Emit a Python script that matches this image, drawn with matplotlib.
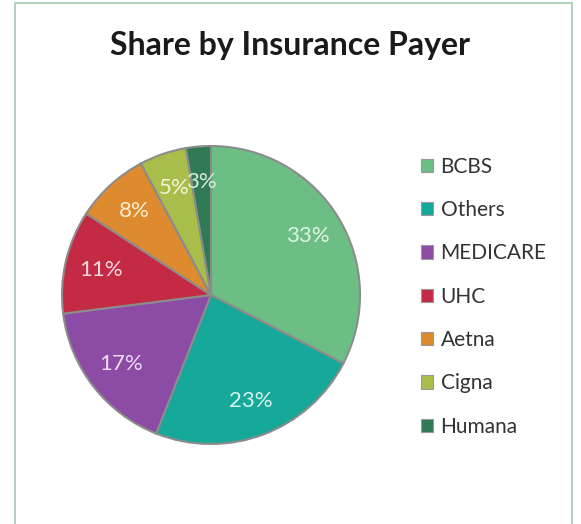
import matplotlib.pyplot as plt
from matplotlib.patches import Rectangle, Patch

payers = ['BCBS', 'Others', 'MEDICARE', 'UHC', 'Aetna', 'Cigna', 'Humana']
shares = [32.6, 23.4, 17.0, 11.2, 8.0, 5.1, 2.7]
colors = ['#6dbe85', '#16a899', '#8c4ba4', '#c42a43', '#de8a2e', '#a9bd4a', '#2f7a55']
label_colors = ['#dff3e3', '#d6f3ef', '#eedcf3', '#f7d9de', '#fbeed4', '#f3f5d6', '#d6ece0']

W, H = 581, 524
fig = plt.figure(figsize=(W / 100, H / 100), dpi=100)
plt.rcParams['font.family'] = ['Lato', 'DejaVu Sans']

# outer chart frame
fig.patches.append(Rectangle((15 / W, -0.02), 557 / W, (H - 3) / H + 0.02,
                             transform=fig.transFigure, fill=False,
                             edgecolor='#a9cfb4', linewidth=1.3))

fig.text(290 / W, 1 - 45 / H, 'Share by Insurance Payer', ha='center', va='center',
         fontsize=23, fontweight='bold', color='#1a1a1a')

cx, cy, r = 211, 295, 149
ax = fig.add_axes([(cx - r) / W, (H - cy - r) / H, 2 * r / W, 2 * r / H])
wedges, texts, autotexts = ax.pie(shares, colors=colors, startangle=90, counterclock=False,
                                  autopct='%.0f%%', pctdistance=0.76,
                                  wedgeprops=dict(edgecolor='#8c8c8c', linewidth=1.5))
for t, c in zip(autotexts, label_colors):
    t.set_color(c)
    t.set_fontsize(16)
ax.set_xlim(-1, 1)
ax.set_ylim(-1, 1)
ax.set_aspect('auto')
ax.axis('off')

handles = [Patch(facecolor=c, edgecolor='#999999', linewidth=0.8) for c in colors]
fig.legend(handles, payers, loc='upper left', bbox_to_anchor=(402 / W, 1 - 138 / H),
           frameon=False, fontsize=15, handlelength=0.6, handleheight=0.6,
           handletextpad=0.35, labelspacing=1.12, labelcolor='#333333')

fig.savefig('out.png', dpi=100)
